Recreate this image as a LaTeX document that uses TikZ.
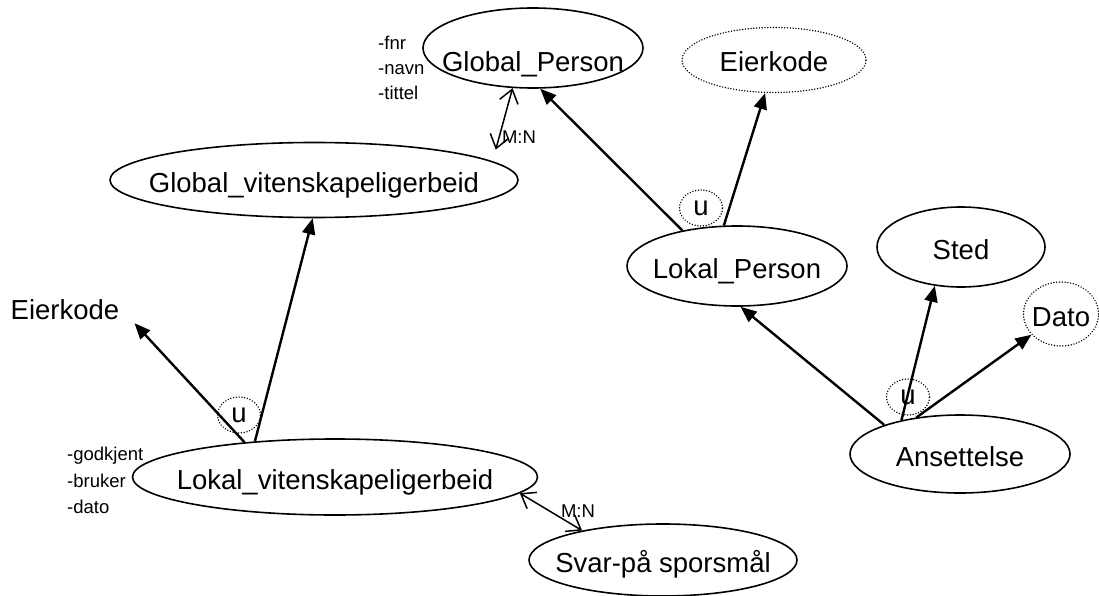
\documentclass[tikz,border=0pt]{standalone}
\usepackage{fontspec}
\setmainfont{Liberation Sans}
\usetikzlibrary{shapes.geometric,arrows.meta}
\begin{document}
\begin{tikzpicture}[x=1pt,y=-1pt]
\tikzstyle{every node}+=[inner sep=0pt]
\tikzstyle{bigtext}=[font=\fontsize{27.5}{30}\selectfont,text height=26pt,text depth=2pt]
\tikzstyle{ent}=[bigtext,draw=black,ellipse,line width=1.6pt,inner xsep=-200pt,inner ysep=-40pt]
\tikzstyle{dotent}=[ent,line cap=round,dash pattern=on 0.01pt off 2.8pt]
\tikzstyle{unode}=[dotent,minimum width=43pt,minimum height=36pt,text height=16pt]
\tikzstyle{attr}=[anchor=west,font=\fontsize{18.5}{20}\selectfont,text height=15pt,text depth=2pt]
\tikzstyle{isa}=[line width=2.4pt,-{Triangle[length=16pt,width=13pt]}]
\tikzstyle{mn}=[line width=1.5pt,{Straight Barb[length=13pt,width=19pt]}-{Straight Barb[length=13pt,width=19pt]}]
\useasboundingbox (0,0) rectangle (1099,596);
\node [ent,minimum width=220pt,minimum height=80pt,text height=50pt] (gp) at (533,48) {Global\_Person};
\node [dotent,minimum width=184pt,minimum height=65pt] (ek1) at (774,60) {Eierkode};
\node [ent,minimum width=408pt,minimum height=75pt] (gv) at (314,180) {Global\_vitenskapeligerbeid};
\node [ent,minimum width=220pt,minimum height=80pt] (lp) at (737,266) {Lokal\_Person};
\node [ent,minimum width=168pt,minimum height=80pt] (sted) at (961,247) {Sted};
\node [dotent,minimum width=75pt,minimum height=64pt] (dato) at (1061,314) {Dato};
\node [ent,minimum width=220pt,minimum height=78pt] (ans) at (960,454) {Ansettelse};
\node [ent,minimum width=405pt,minimum height=76pt] (lv) at (335,477) {Lokal\_vitenskapeligerbeid};
\node [ent,minimum width=268pt,minimum height=72pt] (svar) at (663,560) {Svar-på sporsmål};
\node [bigtext,inner xsep=15pt,inner ysep=2pt] (ek2) at (65,307) {Eierkode};
\node [unode] (u1) at (701,208) {u};
\node [unode] (u2) at (239,415) {u};
\node [unode] (u3) at (908,397) {u};
\node [attr] (fnr) at (378,43) {-fnr};
\node [attr] (navn) at (378,68) {-navn};
\node [attr] (tittel) at (378,93) {-tittel};
\node [attr] (godkjent) at (67,454) {-godkjent};
\node [attr] (bruker) at (67,481) {-bruker};
\node [attr] (dato2) at (67,507) {-dato};
\node [attr,anchor=center] (mn1) at (519,137) {M:N};
\node [attr,anchor=center] (mn2) at (578,511) {M:N};
\draw [isa] (lp.147.6) -- (gp.-80);
\draw [isa] (lp.108) -- (ek1.-105);
\draw [isa] (ans.159) -- (lp.-85);
\draw [isa] (ans.150) -- (sted.-124);
\draw [isa] (ans.140) -- (dato.-145);
\draw [isa] (lv.159) -- (ek2.south east);
\draw [isa] (lv.156) -- (gv.-92);
\draw [mn,shorten <=12pt] (gv.6) -- (gp.-117);
\draw [mn] (lv.-5.7) -- (svar.160);
\end{tikzpicture}
\end{document}
